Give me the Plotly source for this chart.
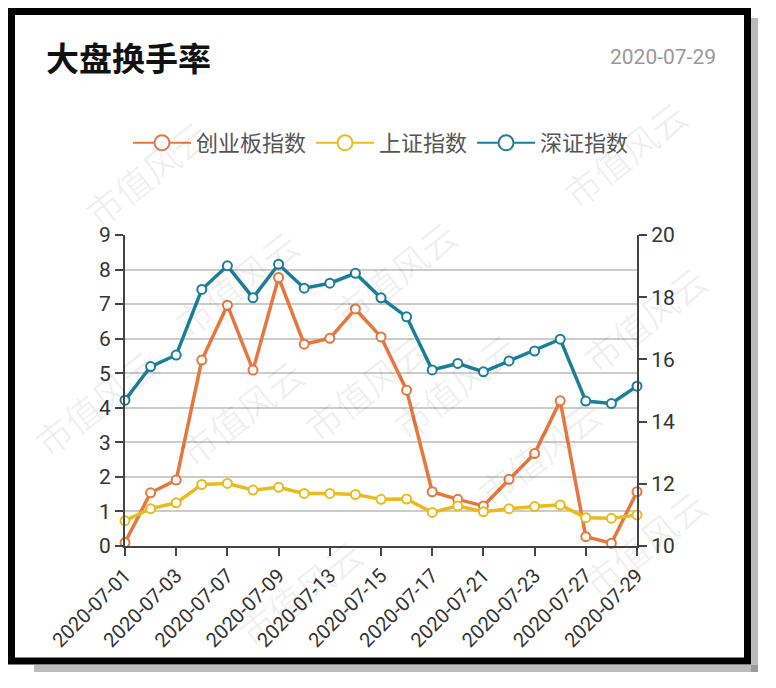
import plotly.graph_objects as go

dates = ["2020-07-01","2020-07-02","2020-07-03","2020-07-06","2020-07-07","2020-07-08",
         "2020-07-09","2020-07-10","2020-07-13","2020-07-14","2020-07-15","2020-07-16",
         "2020-07-17","2020-07-20","2020-07-21","2020-07-22","2020-07-23","2020-07-24",
         "2020-07-27","2020-07-28","2020-07-29"]
tick_dates = dates[::2]

cyb = [0.10, 1.54, 1.91, 5.38, 6.97, 5.09, 7.77, 5.84, 6.01, 6.86, 6.05, 4.51,
       1.57, 1.35, 1.16, 1.93, 2.68, 4.20, 0.27, 0.08, 1.57]
sh = [0.73, 1.08, 1.25, 1.78, 1.81, 1.62, 1.70, 1.52, 1.52, 1.49, 1.35, 1.36,
      0.97, 1.16, 0.99, 1.08, 1.14, 1.19, 0.82, 0.80, 0.90]
sz = [14.69, 15.77, 16.14, 18.25, 19.01, 17.98, 19.06, 18.29, 18.45, 18.77, 17.98, 17.37,
      15.66, 15.87, 15.60, 15.95, 16.27, 16.65, 14.66, 14.58, 15.14]

names = ["创业板指数", "上证指数", "深证指数"]
colors = ["#E5773F", "#E8BC1E", "#1B7F9C"]

W, H = 776, 688
L, R, T, B = 125, 637, 235, 546

def px(x):
    return (x - L) / (R - L)

def py(y):
    return (B - y) / (B - T)

fig = go.Figure()
for vals, name, col, ax in [(cyb, names[0], colors[0], "y"), (sh, names[1], colors[1], "y"), (sz, names[2], colors[2], "y2")]:
    fig.add_trace(go.Scatter(
        x=dates, y=vals, name=name, yaxis=ax, mode="lines+markers",
        line=dict(color=col, width=3.5),
        marker=dict(symbol="circle", size=9, color="white", line=dict(color=col, width=2)),
        cliponaxis=False, showlegend=False,
    ))
# legend entries with larger symbols
for name, col in zip(names, colors):
    fig.add_trace(go.Scatter(
        x=[None], y=[None], name=name, mode="lines+markers",
        line=dict(color=col, width=2),
        marker=dict(symbol="circle", size=15, color="white", line=dict(color=col, width=2)),
        showlegend=True,
    ))

font_family = "Roboto, 'Noto Sans CJK SC', sans-serif"

shapes = [
    dict(type="rect", xref="paper", yref="paper", x0=px(751), x1=px(758), y0=py(18), y1=py(672),
         fillcolor="rgba(120,120,120,0.5)", line=dict(width=0), layer="below"),
    dict(type="rect", xref="paper", yref="paper", x0=px(34), x1=px(758), y0=py(665), y1=py(672),
         fillcolor="rgba(120,120,120,0.5)", line=dict(width=0), layer="below"),
    dict(type="rect", xref="paper", yref="paper", x0=px(11.5), x1=px(747.5), y0=py(11.5), y1=py(661),
         fillcolor="white", line=dict(color="black", width=7), layer="below"),
]

annotations = [
    dict(text="<b>大盘换手率</b>", x=px(44), y=py(57), xref="paper", yref="paper",
         xanchor="left", yanchor="middle", showarrow=False,
         font=dict(family="'Noto Sans CJK SC', sans-serif", size=33, color="#111")),
    dict(text="2020-07-29", x=px(718), y=py(57), xref="paper", yref="paper",
         xanchor="right", yanchor="middle", showarrow=False,
         font=dict(family=font_family, size=21, color="#999")),
]

wm = [(70, 105), (160, 215), (470, 205), (700, 85), (530, 385), (165, 480), (290, 455),
      (615, 520), (300, 660), (720, 610), (20, 470), (720, 250)]
for (wx, wy) in wm:
    annotations.append(dict(text="市值风云", x=px(wx), y=py(wy), xref="paper", yref="paper",
                            showarrow=False, textangle=-38,
                            font=dict(family="'Noto Sans CJK SC', sans-serif", size=36,
                                      color="rgba(0,0,0,0.06)")))

fig.update_layout(
    width=W, height=H,
    margin=dict(l=L, r=W - R, t=T, b=H - B, pad=0),
    paper_bgcolor="white", plot_bgcolor="rgba(0,0,0,0)",
    showlegend=True,
    legend=dict(orientation="h", x=0.5, xanchor="center", y=py(143), yanchor="middle",
                font=dict(family="'Noto Sans CJK SC', sans-serif", size=22, color="#555"),
                bgcolor="rgba(0,0,0,0)", itemwidth=58),
    shapes=shapes,
    annotations=annotations,
    xaxis=dict(type="category", categoryorder="array", categoryarray=dates,
               range=[0, len(dates) - 1], tickmode="array", tickvals=tick_dates, ticktext=tick_dates,
               tickangle=-45, ticks="outside", ticklen=8, tickwidth=2, tickcolor="#444",
               showline=True, linecolor="#444", linewidth=2, showgrid=False, zeroline=False,
               tickfont=dict(family=font_family, size=20, color="#333")),
    yaxis=dict(range=[0, 9], dtick=1, tick0=0, ticks="outside", ticklen=8, tickwidth=2, tickcolor="#444",
               showline=True, linecolor="#444", linewidth=2, showgrid=True, gridcolor="#cccccc",
               gridwidth=1.5, zeroline=False,
               tickfont=dict(family=font_family, size=21, color="#333")),
    yaxis2=dict(range=[10, 20], dtick=2, tick0=10, overlaying="y", side="right",
                ticks="outside", ticklen=8, tickwidth=2, tickcolor="#444",
                showline=True, linecolor="#444", linewidth=2, showgrid=False, zeroline=False,
                tickfont=dict(family=font_family, size=21, color="#333")),
)

fig.write_html("out.html")
